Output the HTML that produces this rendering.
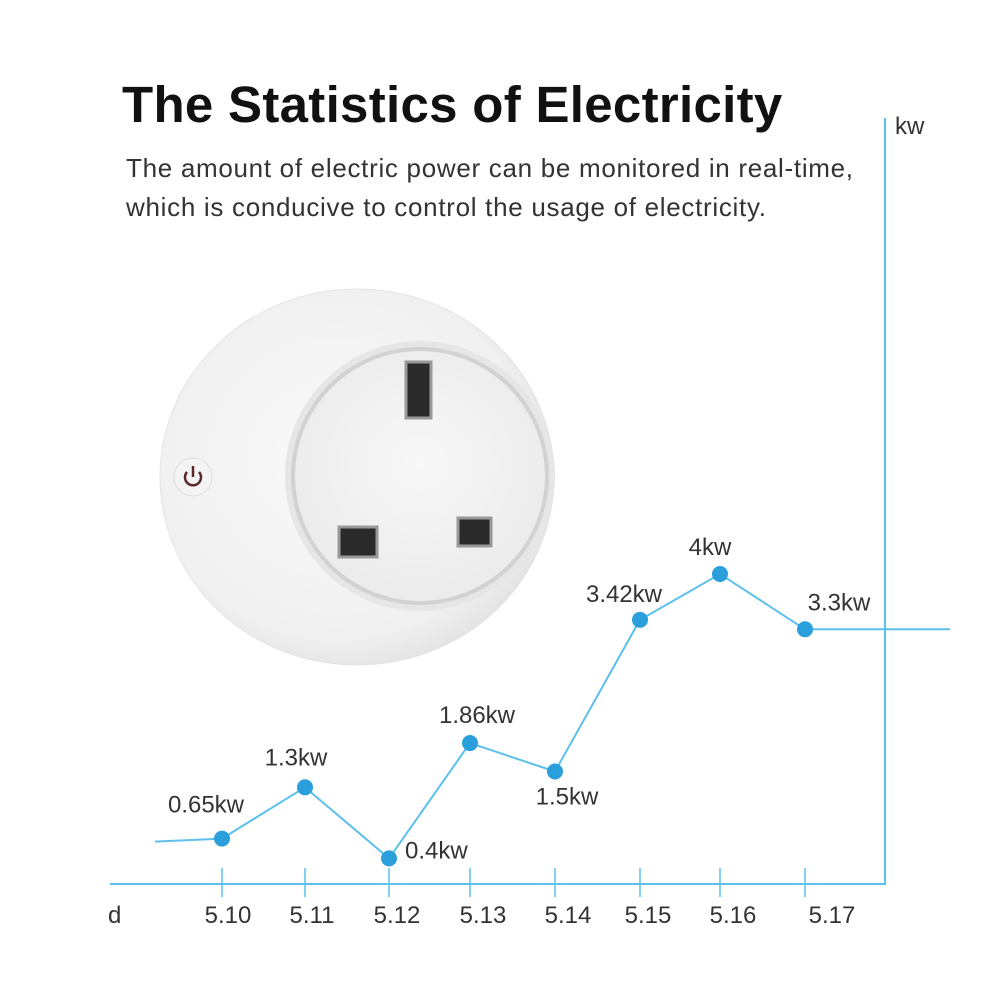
<!DOCTYPE html>
<html><head><meta charset="utf-8"><style>
body{margin:0;background:#fff;}
svg{display:block;font-family:"Liberation Sans",sans-serif;}
</style></head><body>
<svg width="1001" height="1001" viewBox="0 0 1001 1001">
<defs>
<radialGradient id="body" cx="0.45" cy="0.45" r="0.6"><stop offset="0" stop-color="#fafafa"/><stop offset="0.8" stop-color="#f0f0f0"/><stop offset="1" stop-color="#e0e0e0"/></radialGradient>
<radialGradient id="face" cx="0.5" cy="0.45" r="0.6"><stop offset="0" stop-color="#f8f8f8"/><stop offset="1" stop-color="#eaeaea"/></radialGradient>
</defs>
<text x="122" y="122" font-size="51" font-weight="bold" letter-spacing="0.3" fill="#111">The Statistics of Electricity</text>
<text x="126" y="177" font-size="26" letter-spacing="0.7" fill="#333">The amount of electric power can be monitored in real-time,</text>
<text x="126" y="216" font-size="26" letter-spacing="0.7" fill="#333">which is conducive to control the usage of electricity.</text>
<g>
<ellipse cx="357" cy="477" rx="197" ry="188" fill="url(#body)" stroke="#e4e4e4"/>
<circle cx="420" cy="476" r="135" fill="#e6e6e6"/>
<circle cx="420" cy="476" r="129" fill="#d2d2d2"/>
<circle cx="420" cy="476" r="125" fill="url(#face)"/>
<rect x="406" y="362" width="25" height="56" fill="#2a2a2a" stroke="#999" stroke-width="3"/>
<rect x="339" y="527" width="38" height="30" fill="#2a2a2a" stroke="#999" stroke-width="3"/>
<rect x="458" y="518" width="33" height="28" fill="#2a2a2a" stroke="#999" stroke-width="3"/>
<circle cx="193" cy="477" r="19" fill="#f4f4f4" stroke="#ddd"/>
<path d="M187 472 A8 8 0 1 0 199 472" fill="none" stroke="#5a2a2a" stroke-width="2.5"/>
<line x1="193" y1="466" x2="193" y2="477" stroke="#5a2a2a" stroke-width="2.5"/>
</g>
<g id="axes" stroke="#5bc0eb" stroke-width="2" fill="none">
<line x1="110" y1="884" x2="886" y2="884"/>
<line x1="885" y1="118" x2="885" y2="885"/>
</g>
<text x="895" y="134" font-size="24" fill="#333">kw</text>
<text x="108" y="923" font-size="24" fill="#333">d</text>
<g id="chart"></g>
</svg>
<script>
const categories=["5.10","5.11","5.12","5.13","5.14","5.15","5.16","5.17"];
const values=[0.65,1.3,0.4,1.86,1.5,3.42,4,3.3];
const valueLabels=["0.65kw","1.3kw","0.4kw","1.86kw","1.5kw","3.42kw","4kw","3.3kw"];
const tickX=[222,305,389,470,555,640,720,805];
const NS="http://www.w3.org/2000/svg";
function xs(i){return tickX[i];}
function ys(v){return 890-79*v;}
const g=document.getElementById('chart');
function mk(t,a){const e=document.createElementNS(NS,t);for(const k in a)e.setAttribute(k,a[k]);g.appendChild(e);return e;}
const labShift=[6,7,8,13,13,8,13,27];
categories.forEach((c,i)=>{
 const t=mk('line',{x1:xs(i),y1:868,x2:xs(i),y2:897,stroke:'#5bc0eb','stroke-width':1.5});
 
 
 const l=mk('text',{x:xs(i)+labShift[i],y:923,'font-size':24,fill:'#333','text-anchor':'middle'});
 l.textContent=c;
 
 
});
let pts=[[155,ys(values[0])+3]];
values.forEach((v,i)=>pts.push([xs(i),ys(v)]));
pts.push([950,ys(values[values.length-1])]);
const line=mk('polyline',{points:pts.map(p=>p.join(',')).join(' '),fill:'none',stroke:'#5bc0eb','stroke-width':2});


const offs=[[-16,-26,'middle'],[-9,-22,'middle'],[16,0,'start'],[7,-20,'middle'],[12,33,'middle'],[-16,-18,'middle'],[-10,-19,'middle'],[34,-19,'middle']];
values.forEach((v,i)=>{
 const c=mk('circle',{cx:xs(i),cy:ys(v),r:8,fill:'#2a9fdc'});
 
 
 const o=offs[i];
 const t=mk('text',{x:xs(i)+o[0],y:ys(v)+o[1],'font-size':24,fill:'#333','text-anchor':o[2]});
 t.textContent=valueLabels[i];
 
 
});
</script>
</body></html>
